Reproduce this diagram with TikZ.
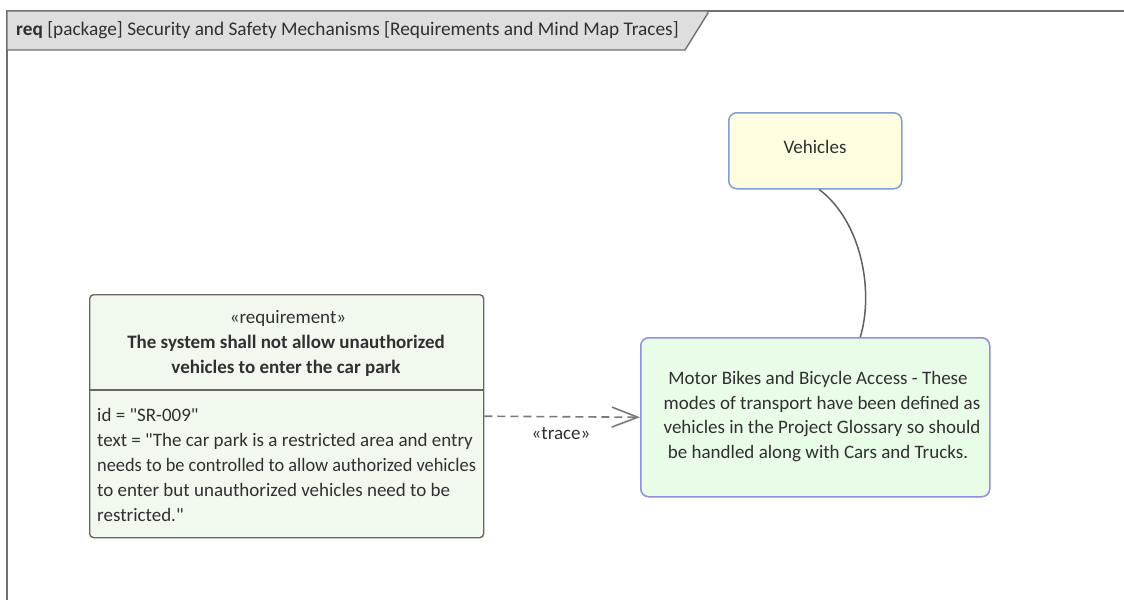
\documentclass[tikz,border=0pt]{standalone}
\usepackage{fontspec}
\setmainfont{Carlito}
\usetikzlibrary{arrows.meta}
\definecolor{txt}{HTML}{303030}
\definecolor{framec}{HTML}{707070}
\definecolor{tabfill}{HTML}{DEDEDE}
\definecolor{reqfill}{HTML}{F1F9EE}
\definecolor{reqline}{HTML}{666666}
\definecolor{motfill}{HTML}{E8FCE8}
\definecolor{motline}{HTML}{9090DC}
\definecolor{vehfill}{HTML}{FFFDE0}
\definecolor{vehline}{HTML}{7F9FCF}
\definecolor{conn}{HTML}{606060}
\definecolor{dconn}{HTML}{7A7A7A}
\newcommand{\dq}{\textquotedbl}
\tikzset{
  body/.style={font=\fontsize{19}{23}\selectfont, text=txt, inner sep=0pt},
  bodyb/.style={body, font=\fontsize{19}{23}\selectfont\bfseries},
  reqbox/.style={draw=reqline, fill=reqfill, line width=1.4pt, rounded corners=4pt, inner sep=0pt},
  motbox/.style={draw=motline, fill=motfill, line width=1.5pt, rounded corners=8pt, inner sep=0pt},
  vehbox/.style={draw=vehline, fill=vehfill, line width=1.5pt, rounded corners=8pt, inner sep=0pt},
  tracearrow/.style={draw=dconn, line width=1.6pt, dash pattern=on 8pt off 5pt, -{Straight Barb[length=26pt,width=20pt]}},
  mindlink/.style={draw=conn, line width=1.5pt},
}
\begin{document}
\begin{tikzpicture}[x=1pt,y=-1pt]
\useasboundingbox (0,0) rectangle (1124,600);
\fill[white] (0,0) rectangle (1124,600);
% frame
\draw[framec, line width=1.4pt] (7,600) -- (7,11) -- (1124,11);
\filldraw[fill=tabfill, draw=framec, line width=1.4pt] (7,11) -- (708,11) -- (708,13) -- (685,50) -- (7,50) -- cycle;
\node[body, anchor=base west] (cap) at (16,35) {\fontsize{19.3}{23}\selectfont\textbf{req} [package] Security and Safety Mechanisms [Requirements and Mind Map Traces]};

% requirement
\node[reqbox, minimum width=394pt, minimum height=243pt, anchor=north west] (req) at (89,294) {};
\draw[reqline, line width=1.4pt] (req.west |- 0,390) coordinate (dl) -- (req.east |- 0,390) coordinate (dr);
\node[body, anchor=base] (ster) at (288,323) {«requirement»};
\node[bodyb, anchor=base] (t1) at (286,348) {The system shall not allow unauthorized};
\node[bodyb, anchor=base] (t2) at (286,373) {vehicles to enter the car park};
\node[body, anchor=base west] (a1) at (97,421) {id = \dq SR-009\dq};
\node[body, anchor=base west] (a2) at (97,446) {text = \dq The car park is a restricted area and entry};
\node[body, anchor=base west] (a3) at (97,471) {\scalebox{0.965}[1]{needs to be controlled to allow authorized vehicles}};
\node[body, anchor=base west] (a4) at (97,496) {to enter but unauthorized vehicles need to be};
\node[body, anchor=base west] (a5) at (97,521) {restricted.\dq};

% motor bikes
\node[motbox, minimum width=349pt, minimum height=159pt, anchor=north west] (mot) at (640,337) {};
\node[body, anchor=base] (m1) at (818,384) {Motor Bikes and Bicycle Access - These};
\node[body, anchor=base] (m2) at (822,409) {modes of transport have been defined as};
\node[body, anchor=base] (m3) at (822,433) {vehicles in the Project Glossary so should};
\node[body, anchor=base] (m4) at (818,458) {be handled along with Cars and Trucks.};

% vehicles
\node[vehbox, minimum width=173pt, minimum height=76pt, anchor=north west] (veh) at (728,112) {};
\node[body, anchor=base] (vt) at (815,153) {Vehicles};

% connectors
\draw[mindlink] ([xshift=4pt]veh.south) .. controls (862,222) and (874,292) .. ([xshift=45pt]mot.north);
\draw[tracearrow] (req.east) -- (mot.west);
\node[body, anchor=base] (tl) at (561,439) {«trace»};
\end{tikzpicture}
\end{document}
